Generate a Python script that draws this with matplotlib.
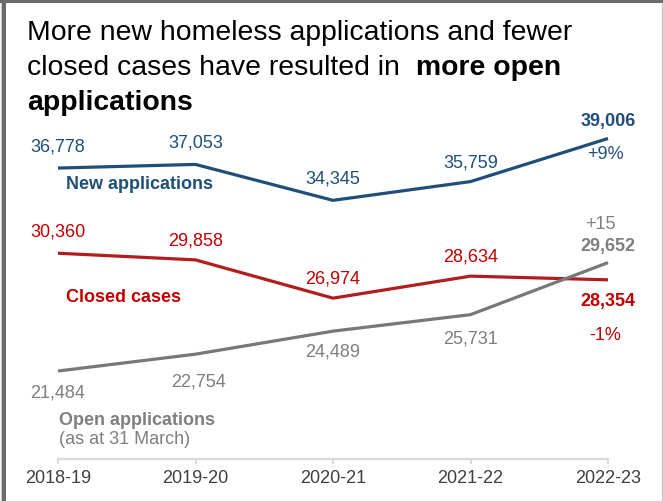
import matplotlib
matplotlib.use("Agg")
import matplotlib.pyplot as plt
from matplotlib.patches import Rectangle

plt.rcParams["font.family"] = ["Liberation Sans", "DejaVu Sans"]

# ---- data ----
years = ["2018-19", "2019-20", "2020-21", "2021-22", "2022-23"]
new_apps = [36778, 37053, 34345, 35759, 39006]
closed_cases = [30360, 29858, 26974, 28634, 28354]
open_apps = [21484, 22754, 24489, 25731, 29652]
new_change = "+9%"
closed_change = "-1%"
open_change = "+15"

BLUE = "#1f4e79"
RED_LINE = "#b01e1e"
RED_TEXT = "#c00000"
GREY_LINE = "#787878"
GREY_TEXT = "#7f7f7f"
AXIS_GREY = "#d9d9d9"
TICK_TEXT = "#404040"

W, H = 663, 502
fig = plt.figure(figsize=(W / 100, H / 100), dpi=100)


def fx(px):
    return px / W


def fy(py):
    return 1 - py / H


# plot area in pixel terms
ax_left, ax_right, ax_top, ax_bottom = 20, 650, 120, 460
ax = fig.add_axes([fx(ax_left), fy(ax_bottom), fx(ax_right - ax_left),
                   (ax_bottom - ax_top) / H])
ax.set_xlim(-(58 - ax_left) / 137.5, 4 + (ax_right - 608) / 137.5)
ax.set_ylim(14854, 40475)

x = list(range(len(years)))
ax.plot(x, new_apps, color=BLUE, lw=2.3, solid_capstyle="butt", zorder=3)
ax.plot(x, closed_cases, color=RED_LINE, lw=2.3, solid_capstyle="butt", zorder=3)
ax.plot(x, open_apps, color=GREY_LINE, lw=2.3, solid_capstyle="butt", zorder=3)

for s in ["top", "right", "left"]:
    ax.spines[s].set_visible(False)
ax.spines["bottom"].set_bounds(0, 4)
ax.spines["bottom"].set_color(AXIS_GREY)
ax.spines["bottom"].set_linewidth(1.6)
ax.spines["bottom"].set_position(("data", 14854))
ax.set_yticks([])
ax.set_xticks(x)
ax.set_xticklabels(years)
ax.tick_params(axis="x", length=3.5, width=1.4, color=AXIS_GREY,
               labelsize=13, labelcolor=TICK_TEXT, pad=4)

PX = 72 / 100  # points per pixel


def label(i, val, text, dy_px, color, bold=False, dx_px=0, ha="center"):
    ax.annotate(text, xy=(i, val), xytext=(dx_px * PX, dy_px * PX),
                textcoords="offset points", ha=ha, va="center",
                fontsize=13, color=color,
                fontweight="bold" if bold else "normal")


def fmt(v):
    return f"{v:,}"


# new applications values
new_dy = [22, 22, 22, 20]
for i, v in enumerate(new_apps[:-1]):
    label(i, v, fmt(v), new_dy[i], BLUE)
label(4, new_apps[4], fmt(new_apps[4]), 18, BLUE, bold=True)
label(4, new_apps[4], new_change, -15, BLUE, dx_px=-3)

# closed cases values
closed_dy = [22, 20, 20, 20]
for i, v in enumerate(closed_cases[:-1]):
    label(i, v, fmt(v), closed_dy[i], RED_TEXT)
label(4, closed_cases[4], fmt(closed_cases[4]), -21, RED_TEXT, bold=True)
label(4, closed_cases[4], closed_change, -55, RED_TEXT, dx_px=-3)

# open applications values
open_dy = [-21, -27, -20, -23]
open_dx = [0, 3, 0, 0]
for i, v in enumerate(open_apps[:-1]):
    label(i, v, fmt(v), open_dy[i], GREY_TEXT, dx_px=open_dx[i])
label(4, open_apps[4], fmt(open_apps[4]), 17, GREY_TEXT, bold=True)
label(4, open_apps[4], open_change, 39, GREY_TEXT, dx_px=-8)

# series names
label(0, new_apps[0], "New applications", -15, BLUE, bold=True, dx_px=8, ha="left")
label(0, closed_cases[0], "Closed cases", -43, RED_TEXT, bold=True, dx_px=8, ha="left")
label(0, open_apps[0], "Open applications", -48, GREY_TEXT, bold=True, dx_px=1, ha="left")
label(0, open_apps[0], "(as at 31 March)", -67, GREY_TEXT, dx_px=1, ha="left")

# heading
TS = 20.4
fig.text(fx(27), fy(40), "More new homeless applications and fewer",
         fontsize=TS, color="black", va="baseline", ha="left")
t2 = fig.text(fx(27), fy(75), "closed cases have resulted in  ",
              fontsize=TS, color="black", va="baseline", ha="left")
fig.canvas.draw()
bb = t2.get_window_extent()
fig.text(bb.x1 / W, fy(75), "more open", fontsize=TS, fontweight="bold",
         color="black", va="baseline", ha="left")
fig.text(fx(27), fy(110), "applications", fontsize=TS, fontweight="bold",
         color="black", va="baseline", ha="left")

# frame around the figure
fig.add_artist(Rectangle((0.5 / W, 0.5 / H), 1 - 1.5 / W, 1 - 1.5 / H,
                         transform=fig.transFigure, fill=False,
                         edgecolor="#c8c8c8", lw=1.0))
fig.add_artist(Rectangle((0, 1 - 4 / H), 1, 4 / H, transform=fig.transFigure,
                         color="#6b6b6b", lw=0))
fig.add_artist(Rectangle((1.5 / W, 0), 4 / W, 1, transform=fig.transFigure,
                         color="#6b6b6b", lw=0))

fig.savefig("out.png", dpi=100)
